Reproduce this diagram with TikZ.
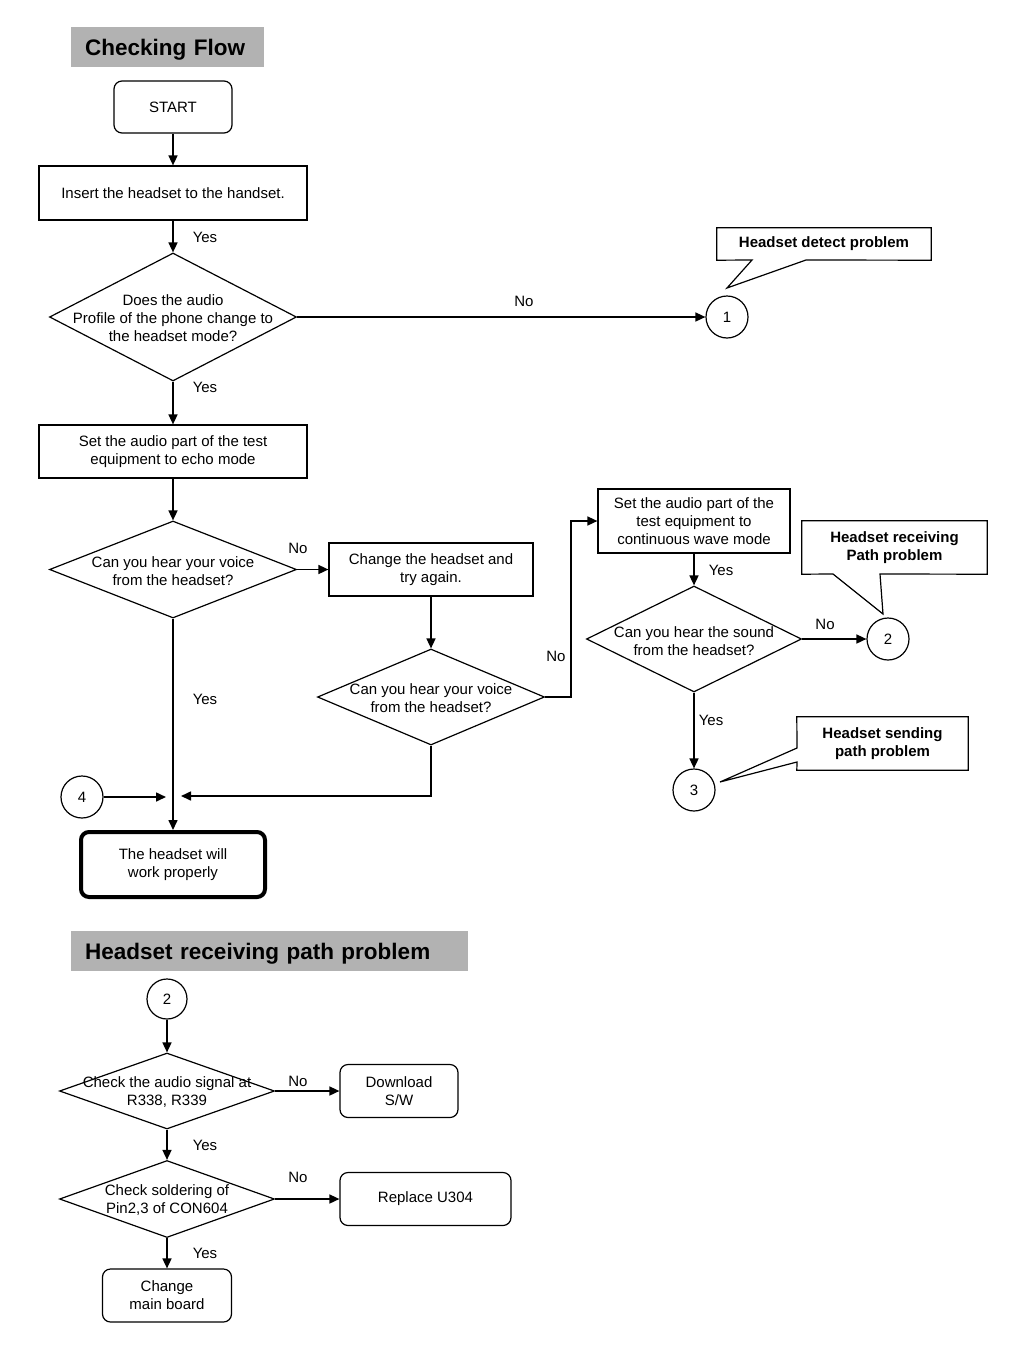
\documentclass[tikz,border=0pt]{standalone}
\usepackage{fontspec}
\setmainfont{Liberation Sans}
\usetikzlibrary{shapes,arrows.meta,positioning}

\tikzset{
    txt/.style={font=\fontsize{15}{18}\selectfont, align=center, inner sep=0pt},
    boldtxt/.style={txt, font=\fontsize{15}{18}\selectfont\bfseries},
    box/.style={txt, draw, line width=1.2pt},
    rbox/.style={box, rounded corners=8pt},
    decision/.style={diamond, draw, line width=1.2pt, inner sep=0pt},
    pin/.style={circle, draw, line width=1.2pt, minimum size=42pt, txt},
    arr/.style={-{Triangle[length=10pt,width=9pt]}, line width=1.6pt},
    title/.style={fill=black!30, font=\fontsize{22.5}{27}\selectfont\bfseries, anchor=west,
        inner xsep=14pt, inner ysep=0pt, minimum height=40pt, text depth=0pt, align=left}
}

\begin{document}
\begin{tikzpicture}[x=1pt,y=-1pt]
    \useasboundingbox (0,0) rectangle (1024,1365);

    % Title
    \node[title, text width=165pt] (tflow) at (71,47) {Checking Flow};

    % Main column
    \node[rbox, minimum width=118pt, minimum height=52pt] (start) at (173,107) {START};
    \node[box, minimum width=268pt, minimum height=54pt] (ins) at (173,193) {Insert the headset to the handset.};
    \node[decision, minimum width=247pt, minimum height=128pt] (d1) at (173,317) {};
    \node[txt] (d1t) at (173,318) {Does the audio\\Profile of the phone change to\\the headset mode?};
    \node[box, minimum width=268pt, minimum height=53pt] (echo) at (173,451.5) {Set the audio part of the test\\equipment to echo mode};
    \node[decision, minimum width=247pt, minimum height=97pt] (d2) at (173,569.5) {};
    \node[txt] (d2t) at (173,571) {Can you hear your voice\\from the headset?};
    \node[rbox, line width=4pt, minimum width=184pt, minimum height=65pt] (work) at (173,864.5) {The headset will\\work properly};

    % Retry branch
    \node[box, minimum width=204pt, minimum height=53pt] (chg) at (431,569.5) {Change the headset and\\try again.};
    \node[decision, minimum width=227pt, minimum height=96pt] (d3) at (431,697) {};
    \node[txt] (d3t) at (431,698.5) {Can you hear your voice\\from the headset?};
    \coordinate (k3) at (571,697);
    \coordinate (m3) at (181,796);

    % Continuous wave branch
    \node[box, minimum width=192pt, minimum height=64pt] (cw) at (694,521) {Set the audio part of the\\test equipment to\\continuous wave mode};
    \node[decision, minimum width=215pt, minimum height=106pt] (d4) at (694,639) {};
    \node[txt] (d4t) at (694,641) {Can you hear the sound\\from the headset?};

    % Connectors to other pages
    \node[pin] (c1) at (727,317) {1};
    \node[pin] (c2) at (888,639) {2};
    \node[pin] (c3) at (694,790) {3};
    \node[pin] (c4) at (82,797) {4};
    \coordinate (m4) at (166,797);

    % Callouts
    \node[boldtxt, minimum width=214pt, minimum height=32pt] (n1) at (824,244) {Headset detect problem};
    \draw[line width=1.2pt] (n1.north west) -- (n1.north east) -- (n1.south east) -- (806,260) -- (727,288) -- (752,260) -- (n1.south west) -- cycle;
    \node[boldtxt, minimum width=185pt, minimum height=53pt] (n2) at (894.5,547.5) {Headset receiving\\Path problem};
    \draw[line width=1.2pt] (n2.north west) -- (n2.north east) -- (n2.south east) -- (880,574) -- (883,614) -- (833,574) -- (n2.south west) -- cycle;
    \node[boldtxt, minimum width=171pt, minimum height=53pt] (n3) at (882.5,743.5) {Headset sending\\path problem};
    \draw[line width=1.2pt] (n3.north west) -- (n3.north east) -- (n3.south east) -- (n3.south west) -- (797,762) -- (720,782) -- (797,748) -- cycle;

    % Arrows
    \draw[arr] (start) -- (ins);
    \draw[arr] (ins) -- (d1);
    \draw[arr] (d1) -- (c1);
    \draw[arr] (d1) -- (echo);
    \draw[arr] (echo) -- (d2);
    \draw[arr] (d2) -- (chg);
    \draw[arr] (chg) -- (d3);
    \draw[arr] (d3.east) -- (k3) |- (cw.west);
    \draw[arr] (cw) -- (d4);
    \draw[arr] (d4) -- (c2);
    \draw[arr] (d4) -- (c3);
    \draw[arr] (d2) -- (work);
    \draw[arr] (c4) -- (m4);
    \draw[arr] (d3.south) |- (m3);

    % Yes / No
    \node[txt] (y1) at (205,237) {Yes};
    \node[txt] (n1l) at (524,301) {No};
    \node[txt] (y2) at (205,387) {Yes};
    \node[txt] (n2l) at (298,548) {No};
    \node[txt] (y3) at (205,699) {Yes};
    \node[txt] (n3l) at (556,656) {No};
    \node[txt] (y4) at (721,570) {Yes};
    \node[txt] (n4l) at (825,624) {No};
    \node[txt] (y5) at (711,720) {Yes};

    % Second flow
    \node[title, text width=369pt] (trecv) at (71,951) {Headset receiving path problem};
    \node[pin, minimum size=40pt] (c5) at (167,999) {2};
    \node[decision, minimum width=215pt, minimum height=76pt] (d5) at (167,1091) {};
    \node[txt] (d5t) at (167,1092.5) {Check the audio signal at\\R338, R339};
    \node[rbox, minimum width=118pt, minimum height=53pt] (dl) at (399,1091) {Download\\S/W};
    \node[decision, minimum width=215pt, minimum height=77pt] (d6) at (167,1199) {};
    \node[txt] (d6t) at (167,1200.5) {Check soldering of\\Pin2,3 of CON604};
    \node[rbox, minimum width=171pt, minimum height=53pt] (rep) at (425.5,1199) {Replace U304};
    \node[rbox, minimum width=129pt, minimum height=53pt] (cmb) at (167,1295.5) {Change\\main board};

    \draw[arr] (c5) -- (d5);
    \draw[arr] (d5) -- (dl);
    \draw[arr] (d5) -- (d6);
    \draw[arr] (d6) -- (rep);
    \draw[arr] (d6) -- (cmb);

    \node[txt] (n5l) at (298,1081) {No};
    \node[txt] (y6) at (205,1145) {Yes};
    \node[txt] (n6l) at (298,1177) {No};
    \node[txt] (y7) at (205,1253) {Yes};
\end{tikzpicture}
\end{document}
